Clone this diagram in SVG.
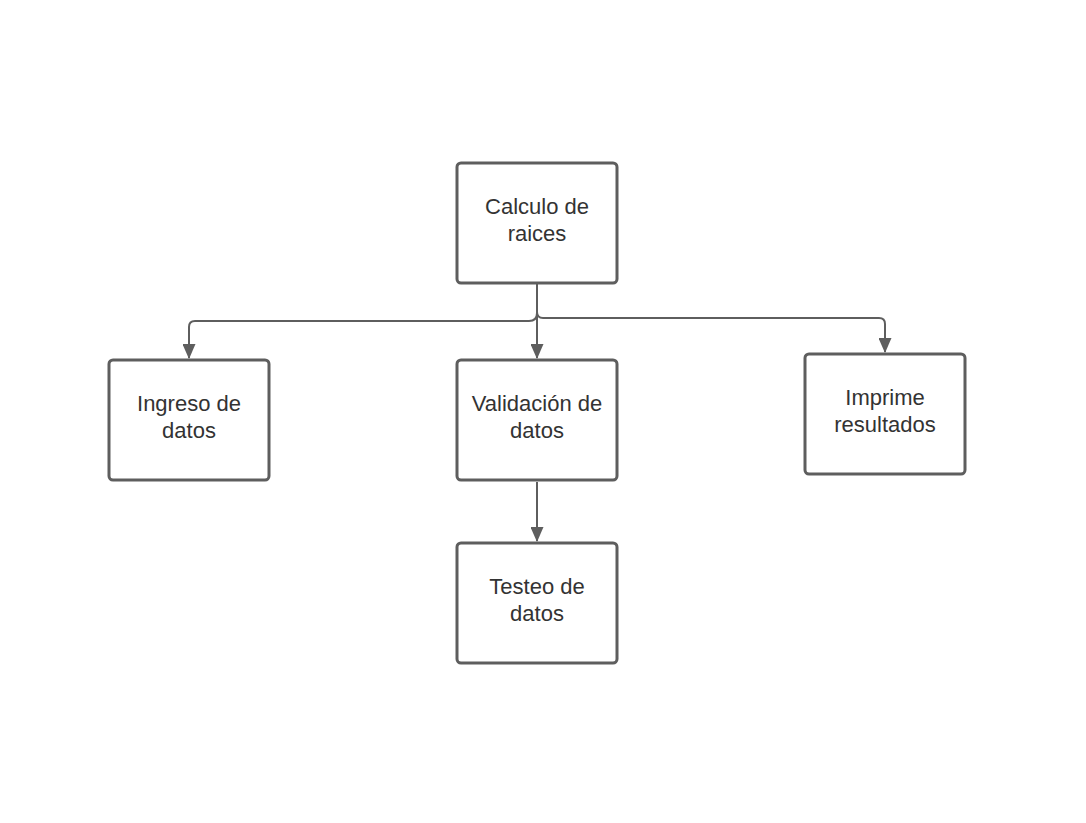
<svg xmlns="http://www.w3.org/2000/svg" width="1086" height="823" viewBox="0 0 1086 823">
<style>
.box{fill:#fff;stroke:#5e5e5e;stroke-width:3}
.lbl{font-family:"Liberation Sans",Arial,sans-serif;font-size:22px;fill:#333;text-anchor:middle}
.con{fill:none;stroke:#5e5e5e;stroke-width:2}
</style>
<defs>
<marker id="ah" markerWidth="15" markerHeight="13" refX="14" refY="6.5" orient="auto" markerUnits="userSpaceOnUse" viewBox="0 0 15 13">
<path d="M0,0 L15,6.5 L0,13 Z" fill="#5e5e5e"/>
</marker>
</defs>
<rect width="1086" height="823" fill="#fff"/>
<g id="connectors">
<path class="con" d="M537,284 V313 Q537,321 529,321 H195 Q189,321 189,327 V358" marker-end="url(#ah)"/>
<path class="con" d="M537,284 V358" marker-end="url(#ah)"/>
<path class="con" d="M537,284 V312 Q537,318 543,318 H879 Q885,318 885,324 V352" marker-end="url(#ah)"/>
<path class="con" d="M537,482 V541" marker-end="url(#ah)"/>
</g>
<g id="calculo">
<rect class="box" x="457" y="163" width="160" height="120" rx="4"/>
<text class="lbl" x="537" y="214">Calculo de</text>
<text class="lbl" x="537" y="241">raices</text>
</g>
<g id="ingreso">
<rect class="box" x="109" y="360" width="160" height="120" rx="4"/>
<text class="lbl" x="189" y="411">Ingreso de</text>
<text class="lbl" x="189" y="438">datos</text>
</g>
<g id="validacion">
<rect class="box" x="457" y="360" width="160" height="120" rx="4"/>
<text class="lbl" x="537" y="411">Validación de</text>
<text class="lbl" x="537" y="438">datos</text>
</g>
<g id="imprime">
<rect class="box" x="805" y="354" width="160" height="120" rx="4"/>
<text class="lbl" x="885" y="405">Imprime</text>
<text class="lbl" x="885" y="432">resultados</text>
</g>
<g id="testeo">
<rect class="box" x="457" y="543" width="160" height="120" rx="4"/>
<text class="lbl" x="537" y="594">Testeo de</text>
<text class="lbl" x="537" y="621">datos</text>
</g>
</svg>
